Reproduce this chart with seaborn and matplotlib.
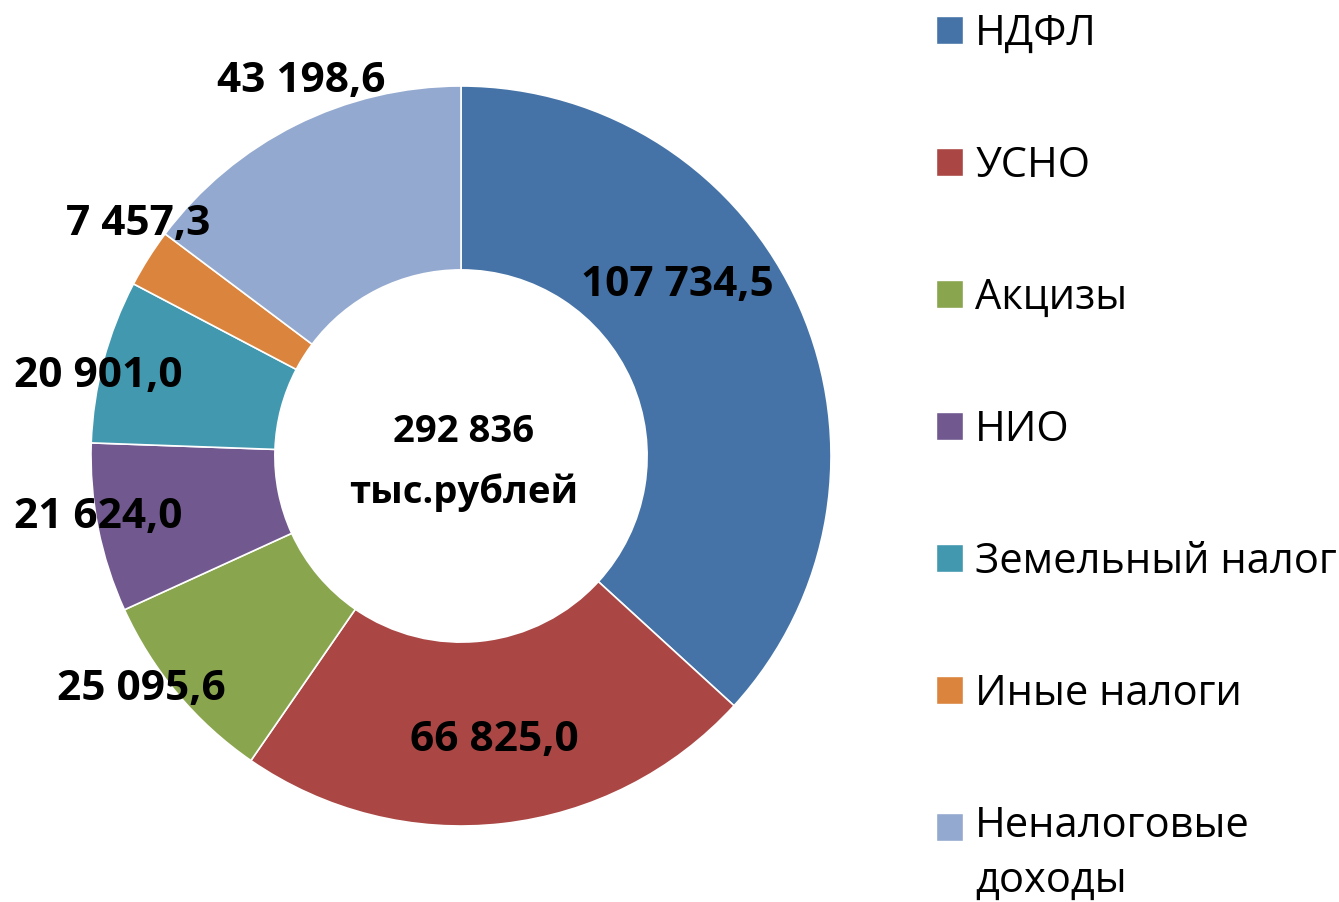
import matplotlib
matplotlib.use("Agg")
import matplotlib.pyplot as plt
import seaborn as sns
from matplotlib.legend_handler import HandlerPatch
from matplotlib.patches import Patch, Rectangle

# Структура налоговых и неналоговых доходов, тыс. рублей
categories = ["НДФЛ", "УСНО", "Акцизы", "НИО", "Земельный налог",
              "Иные налоги", "Неналоговые\nдоходы"]
values = [107734.5, 66825.0, 25095.6, 21624.0, 20901.0, 7457.3, 43198.6]
colors = ["#4573A7", "#AA4744", "#89A54E", "#71588F",
          "#4198AF", "#DB843D", "#93A9CF"]

# label placement (data units, radius = 1), Excel "best fit" style
label_pos = [(0.584, 0.462), (0.089, -0.768), (-0.865, -0.632),
             (-0.981, -0.165), (-0.981, 0.214), (-0.873, 0.627),
             (-0.432, 1.012)]


def fmt(v, dec=1):
    s = f"{v:,.{dec}f}"
    return s.replace(",", " ").replace(".", ",")


sns.set_theme(style="white")
plt.rcParams["font.family"] = ["Open Sans", "DejaVu Sans"]
plt.rcParams["text.color"] = "black"

fig = plt.figure(figsize=(13.39, 9.02), dpi=100)
ax = fig.add_axes([91 / 1339, 76 / 902, 740 / 1339, 740 / 902])

wedges, _ = ax.pie(values, colors=colors, startangle=90, counterclock=False,
                   radius=1.0,
                   wedgeprops=dict(width=0.497, edgecolor="white", linewidth=1.2))
ax.set_xlim(-1, 1)
ax.set_ylim(-1, 1)
ax.set_aspect("equal")
ax.axis("off")

for v, (x, y) in zip(values, label_pos):
    ax.text(x, y, fmt(v), ha="center", va="center", fontsize=30.5,
            fontweight="bold", color="black")

total = sum(values)
ax.text(0.008, -0.017, f"{fmt(total, 0)}\nтыс.рублей", ha="center",
        va="center", fontsize=27.5, fontweight="bold", linespacing=1.75,
        color="black")


# square handle; for the two-line label keep it on the first line
def square(legend, orig_handle, xdescent, ydescent, width, height, fontsize):
    shift = 0.0
    if "\n" in orig_handle.get_label():
        shift = 20.0
    return Rectangle((-xdescent, -ydescent + shift), width, height)


handles = [Patch(facecolor=c, label=l) for c, l in zip(colors, categories)]
leg = fig.legend(handles=handles, loc="upper left",
                 bbox_to_anchor=(936 / 1339, 1 - 13 / 902),
                 frameon=False, fontsize=30, borderpad=0, borderaxespad=0,
                 handlelength=0.65, handleheight=0.65, handletextpad=0.29,
                 labelspacing=2.16,
                 handler_map={Patch: HandlerPatch(patch_func=square)})
for t in leg.get_texts():
    t.set_linespacing(1.4)
    t.set_color("black")

fig.savefig("out.png", dpi=100)
